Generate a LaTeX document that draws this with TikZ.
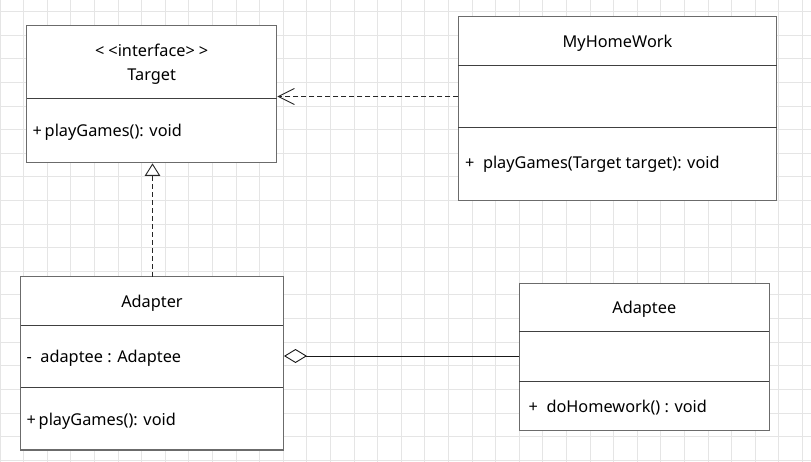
\documentclass[tikz,border=0pt]{standalone}
\usepackage{fontspec}
\setmainfont{Noto Sans}
\usetikzlibrary{arrows.meta}
\begin{document}
\begin{tikzpicture}[x=1pt,y=-1pt,
  umlbox/.style={draw=black!58, line width=1.4pt, fill=white, inner sep=0pt, outer sep=0pt},
  sepline/.style={draw=black!75, line width=1pt},
  txt/.style={inner sep=0pt, font=\fontsize{16.3}{19}\selectfont, text=black},
  ctxt/.style={txt, anchor=base},
  ltxt/.style={txt, anchor=base west},
  dashline/.style={draw=black!85, line width=0.9pt, dash pattern=on 5pt off 3pt},
  gridline/.style={draw=black!10, line width=0.8pt}
]
\useasboundingbox (0,0) rectangle (811,462);
\fill[white] (0,0) rectangle (811,462);
% grid
\foreach \k in {0,...,34} { \draw[gridline] (23.6*\k,0) -- (23.6*\k,462); }
\foreach \k in {0,...,19} { \draw[gridline] (0,11.7+23.6*\k) -- (811,11.7+23.6*\k); }

% Target
\node[umlbox, minimum width=250pt, minimum height=137pt] (target) at (151.7,94.2) {};
\draw[sepline] (target.west |- 0,98.3) -- (target.east |- 0,98.3);
\node[ctxt] (tstereo) at (151.7,56.7) {<\hspace{4pt}<interface>\hspace{4pt}>};
\node[ctxt] (tname) at (151.7,80.7) {Target};
\node[ltxt] (tmeth) at (32.5,136.2) {+\,playGames(): void};

% MyHomeWork
\node[umlbox, minimum width=318.4pt, minimum height=184pt] (hw) at (617.5,108.7) {};
\draw[sepline] (hw.west |- 0,65.3) -- (hw.east |- 0,65.3);
\draw[sepline] (hw.west |- 0,127.7) -- (hw.east |- 0,127.7);
\node[ctxt] (hwname) at (617.5,47.5) {MyHomeWork};
\node[ltxt] (hwmeth) at (465,168.3) {+\ \ playGames(Target target): void};

% Adapter
\node[umlbox, minimum width=262.6pt, minimum height=173.3pt] (adapter) at (152,363.35) {};
\draw[sepline] (adapter.west |- 0,325.7) -- (adapter.east |- 0,325.7);
\draw[sepline] (adapter.west |- 0,387.7) -- (adapter.east |- 0,387.7);
\node[ctxt] (adname) at (152,307.8) {Adapter};
\node[ltxt] (adattr) at (26.5,362.2) {-\ \ adaptee : Adaptee};
\node[ltxt] (admeth) at (26.5,425.7) {\textbf{+}\,playGames(): void};

% Adaptee
\node[umlbox, minimum width=250pt, minimum height=147.4pt] (adaptee) at (644.3,357) {};
\draw[sepline] (adaptee.west |- 0,331.7) -- (adaptee.east |- 0,331.7);
\draw[sepline] (adaptee.west |- 0,381.7) -- (adaptee.east |- 0,381.7);
\node[ctxt] (aename) at (644.3,313.8) {Adaptee};
\node[ltxt] (aemeth) at (528.5,412.2) {+\ \ doHomework() : void};

% dependency MyHomeWork -> Target
\draw[dashline, -{Straight Barb[length=16pt, width=16pt, line width=0.9pt]}, shorten >=0.7pt]
  (hw.west |- 0,96.5) -- (target.east |- 0,96.5);
% realization Adapter -> Target
\draw[dashline, -{Triangle[open, length=12.5pt, width=15.5pt, line width=0.9pt, fill=white]}, shorten >=0.7pt]
  (adapter.north -| 152.5,0) -- (target.south -| 152.5,0);
% aggregation Adapter <>-- Adaptee
\draw[draw=black!90, line width=1pt, {Diamond[open, length=23pt, width=14pt, line width=0.9pt, fill=white]}-, shorten <=0.7pt]
  (adapter.east |- 0,356) -- (adaptee.west |- 0,356);
\end{tikzpicture}
\end{document}
